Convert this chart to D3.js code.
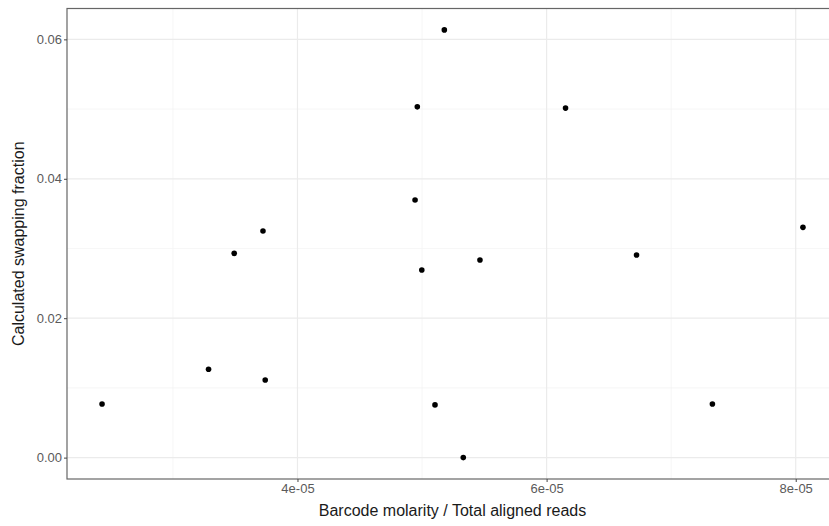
<!DOCTYPE html>
<html>
<head>
<meta charset="utf-8">
<script src="https://cdn.jsdelivr.net/npm/d3@7"></script>
<style>
  body { margin: 0; background: #fff; }
  svg { font-family: "Liberation Sans", Arial, sans-serif; }
</style>
</head>
<body>
<div id="chart"></div>
<script>
// barcode molarity / total aligned reads
var molarity = [2.431e-5, 3.286e-5, 3.741e-5, 3.492e-5, 3.723e-5, 5.179e-5, 4.962e-5, 6.152e-5,
  4.944e-5, 4.998e-5, 5.465e-5, 5.104e-5, 5.331e-5, 6.722e-5, 7.331e-5, 8.058e-5];
// calculated swapping fraction
var swapping = [0.0077, 0.01267, 0.01114, 0.0293, 0.0325, 0.06136, 0.05032, 0.05014,
  0.03695, 0.02691, 0.02834, 0.00756, 0.0, 0.02906, 0.0077, 0.03303];

var xTicks = [4e-5, 6e-5, 8e-5];
var xTickLabels = ["4e-05", "6e-05", "8e-05"];
var xMinor = [3e-5, 5e-5, 7e-5];
var yTicks = [0, 0.02, 0.04, 0.06];
var yTickLabels = ["0.00", "0.02", "0.04", "0.06"];
var yMinor = [0.01, 0.03, 0.05];

var width = 829, height = 526;
// panel edges (note: "top" is a reserved window prop, so prefix them)
var pLeft = 67, pRight = 838, pTop = 8.5, pBottom = 479;

var svg = d3.select("#chart").append("svg")
  .attr("width", width)
  .attr("height", height);

// ggplot style 5% expansion on both sides
var xr = d3.extent(molarity), yr = d3.extent(swapping);
var xPad = (xr[1] - xr[0]) * 0.05, yPad = (yr[1] - yr[0]) * 0.05;

var x = d3.scaleLinear().domain([xr[0] - xPad, xr[1] + xPad]).range([pLeft, pRight]);
var y = d3.scaleLinear().domain([yr[0] - yPad, yr[1] + yPad]).range([pBottom, pTop]);

// minor grid
svg.selectAll(".xminor").data(xMinor).enter().append("line")
  .attr("x1", d => x(d)).attr("x2", d => x(d))
  .attr("y1", pTop).attr("y2", pBottom)
  .attr("stroke", "#f2f2f2").attr("stroke-width", 0.7);
svg.selectAll(".yminor").data(yMinor).enter().append("line")
  .attr("x1", pLeft).attr("x2", pRight)
  .attr("y1", d => y(d)).attr("y2", d => y(d))
  .attr("stroke", "#f2f2f2").attr("stroke-width", 0.7);

// major grid
svg.selectAll(".xmajor").data(xTicks).enter().append("line")
  .attr("x1", d => x(d)).attr("x2", d => x(d))
  .attr("y1", pTop).attr("y2", pBottom)
  .attr("stroke", "#ebebeb").attr("stroke-width", 1.2);
svg.selectAll(".ymajor").data(yTicks).enter().append("line")
  .attr("x1", pLeft).attr("x2", pRight)
  .attr("y1", d => y(d)).attr("y2", d => y(d))
  .attr("stroke", "#ebebeb").attr("stroke-width", 1.2);

// points
svg.selectAll(".pt").data(molarity).enter().append("circle")
  .attr("cx", d => x(d))
  .attr("cy", (d, i) => y(swapping[i]))
  .attr("r", 2.8)
  .attr("fill", "#000");

// panel border
svg.append("rect")
  .attr("x", pLeft).attr("y", pTop)
  .attr("width", pRight - pLeft).attr("height", pBottom - pTop)
  .attr("fill", "none").attr("stroke", "#666").attr("stroke-width", 1.2);

// axes
var xAxis = d3.axisBottom(x).tickValues(xTicks)
  .tickFormat((d, i) => xTickLabels[i]).tickSize(3).tickPadding(2);
var yAxis = d3.axisLeft(y).tickValues(yTicks)
  .tickFormat((d, i) => yTickLabels[i]).tickSize(3).tickPadding(2);

var gx = svg.append("g").attr("transform", "translate(0," + pBottom + ")").call(xAxis);
var gy = svg.append("g").attr("transform", "translate(" + pLeft + ",0)").call(yAxis);
[gx, gy].forEach(function(g) {
  g.select(".domain").remove();
  g.selectAll(".tick line").attr("stroke", "#444");
  g.selectAll(".tick text").attr("fill", "#5a5a5a").style("font-size", "13px");
});

// axis titles
svg.append("text")
  .attr("x", (pLeft + pRight) / 2).attr("y", 516)
  .attr("text-anchor", "middle")
  .attr("fill", "#1a1a1a")
  .style("font-size", "16px")
  .text("Barcode molarity / Total aligned reads");

svg.append("text")
  .attr("transform", "translate(24," + (pTop + pBottom) / 2 + ") rotate(-90)")
  .attr("text-anchor", "middle")
  .attr("fill", "#1a1a1a")
  .style("font-size", "16px")
  .text("Calculated swapping fraction");
</script>
</body>
</html>
